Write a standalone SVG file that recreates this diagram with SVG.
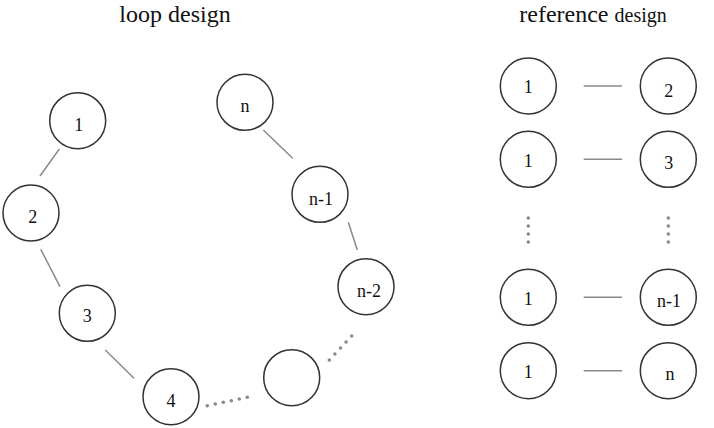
<svg xmlns="http://www.w3.org/2000/svg" width="714" height="428" viewBox="0 0 714 428">
<style>
.node circle{fill:#fff;stroke:#333;stroke-width:1.5}
.node text,.title{font-family:"Liberation Serif","Times New Roman",serif;fill:#111;text-anchor:middle}
.node text{font-size:18px}
.title{font-size:24px}
.conn line{stroke:#8a8a8a;stroke-width:1.5}
.dots circle{fill:#8a8a8a}
</style>
<rect width="714" height="428" fill="#fff"/>
<text class="title" x="175" y="22">loop design</text>
<text class="title" x="593" y="22"><tspan>reference</tspan><tspan font-size="20" dx="6">design</tspan></text>
<g id="connectors" class="conn">
<line x1="59.3" y1="149" x2="40" y2="176"/>
<line x1="40.7" y1="249.3" x2="60" y2="286.7"/>
<line x1="105.3" y1="350" x2="134" y2="378.3"/>
<line x1="263.3" y1="130" x2="292.7" y2="158.3"/>
<line x1="348.3" y1="222.3" x2="357.3" y2="250"/>
<line x1="583.7" y1="86" x2="622" y2="86"/>
<line x1="583.7" y1="159.3" x2="622" y2="159.3"/>
<line x1="583.7" y1="297.3" x2="622" y2="297.3"/>
<line x1="583.7" y1="370.7" x2="622" y2="370.7"/>
<g class="dots">
<circle cx="207.3" cy="405.7" r="1.8"/><circle cx="215.3" cy="404" r="1.8"/><circle cx="223.3" cy="402.3" r="1.8"/><circle cx="231.3" cy="400.7" r="1.8"/><circle cx="239.3" cy="399" r="1.8"/><circle cx="247.3" cy="397.3" r="1.8"/>
<circle cx="329.3" cy="360" r="1.8"/><circle cx="334.9" cy="354" r="1.8"/><circle cx="340.5" cy="348" r="1.8"/><circle cx="346.1" cy="342" r="1.8"/><circle cx="351.7" cy="336" r="1.8"/>
<circle cx="528.3" cy="218" r="1.8"/><circle cx="528.3" cy="226" r="1.8"/><circle cx="528.3" cy="234" r="1.8"/><circle cx="528.3" cy="242" r="1.8"/>
<circle cx="668.3" cy="218" r="1.8"/><circle cx="668.3" cy="226" r="1.8"/><circle cx="668.3" cy="234" r="1.8"/><circle cx="668.3" cy="242" r="1.8"/>
</g>
</g>
<g id="loop1" class="node"><circle cx="77.7" cy="120.7" r="28"/><text x="78.7" y="131">1</text></g>
<g id="loop2" class="node"><circle cx="31" cy="213" r="28"/><text x="32.7" y="223">2</text></g>
<g id="loop3" class="node"><circle cx="87.3" cy="313.3" r="28"/><text x="87.3" y="322">3</text></g>
<g id="loop4" class="node"><circle cx="171" cy="396.7" r="28"/><text x="171" y="406.5">4</text></g>
<g id="loopk" class="node"><circle cx="291.7" cy="377.7" r="28"/></g>
<g id="loopn2" class="node"><circle cx="366" cy="286.7" r="28"/><text x="369" y="296.5">n-2</text></g>
<g id="loopn1" class="node"><circle cx="320" cy="194.3" r="28"/><text x="321" y="205">n-1</text></g>
<g id="loopn" class="node"><circle cx="245" cy="102.3" r="28"/><text x="245" y="111.7">n</text></g>
<g id="ref1a" class="node"><circle cx="528.3" cy="86" r="28"/><text x="528.3" y="93.3">1</text></g>
<g id="ref2" class="node"><circle cx="668.3" cy="86" r="28"/><text x="668.7" y="96.5">2</text></g>
<g id="ref1b" class="node"><circle cx="528.3" cy="159.3" r="28"/><text x="528.3" y="167">1</text></g>
<g id="ref3" class="node"><circle cx="668.3" cy="159.3" r="28"/><text x="668.7" y="169.3">3</text></g>
<g id="ref1c" class="node"><circle cx="528.3" cy="297.3" r="28"/><text x="528.3" y="305">1</text></g>
<g id="refn1" class="node"><circle cx="668.3" cy="297.3" r="28"/><text x="669" y="306.7">n-1</text></g>
<g id="ref1d" class="node"><circle cx="528.3" cy="370.7" r="28"/><text x="528.3" y="377.7">1</text></g>
<g id="refn" class="node"><circle cx="668.3" cy="370.7" r="28"/><text x="670" y="380">n</text></g>
</svg>
